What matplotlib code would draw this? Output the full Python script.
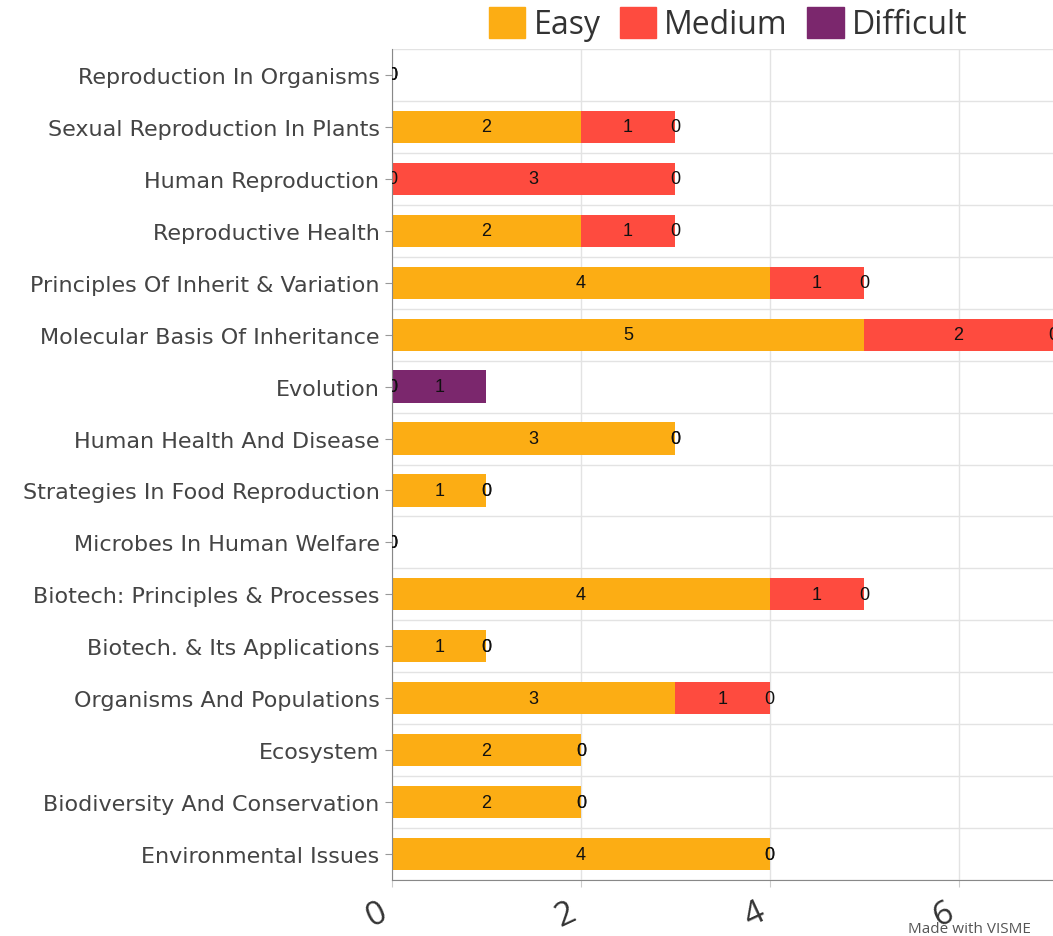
import matplotlib
matplotlib.use("Agg")
import matplotlib.pyplot as plt
import numpy as np
from matplotlib.patches import Patch

categories = [
    "Reproduction In Organisms",
    "Sexual Reproduction In Plants",
    "Human Reproduction",
    "Reproductive Health",
    "Principles Of Inherit & Variation",
    "Molecular Basis Of Inheritance",
    "Evolution",
    "Human Health And Disease",
    "Strategies In Food Reproduction",
    "Microbes In Human Welfare",
    "Biotech: Principles & Processes",
    "Biotech. & Its Applications",
    "Organisms And Populations",
    "Ecosystem",
    "Biodiversity And Conservation",
    "Environmental Issues",
]
easy = [0, 2, 0, 2, 4, 5, 0, 3, 1, 0, 4, 1, 3, 2, 2, 4]
medium = [0, 1, 3, 1, 1, 2, 0, 0, 0, 0, 1, 0, 1, 0, 0, 0]
difficult = [0, 0, 0, 0, 0, 0, 1, 0, 0, 0, 0, 0, 0, 0, 0, 0]
series_names = ["Easy", "Medium", "Difficult"]
x_ticks = [0, 2, 4, 6]

colors = ["#FCAD14", "#FE4B3F", "#7B276D"]

fig = plt.figure(figsize=(10.53, 9.37), dpi=100)
ax = fig.add_axes([392/1053, 1-881/937, 1-392/1053, (881-50)/937])

y = np.arange(len(categories))
left = np.zeros(len(categories))
for vals, col in zip([easy, medium, difficult], colors):
    vals = np.array(vals, dtype=float)
    ax.barh(y, vals, left=left, height=0.62, color=col, zorder=2)
    for yi, (l, v) in enumerate(zip(left, vals)):
        ax.text(l + v/2, yi, f"{int(v)}", ha="center", va="center",
                fontsize=13, color="#111111", family="Liberation Sans",
                zorder=4, clip_on=True)
    left = left + vals

ax.set_ylim(len(categories) - 0.5, -0.5)
ax.set_xlim(0, 7.0)
ax.set_yticks(y)
ax.set_yticklabels(categories, family="DejaVu Sans", fontsize=16, color="#444444")
ax.set_yticks(np.arange(-0.5, len(categories), 1), minor=True)
ax.set_xticks(x_ticks)
ax.set_xticklabels([str(t) for t in x_ticks], rotation=25, ha="right",
                   fontsize=24, color="#333333", family="Open Sans")
ax.tick_params(axis="x", length=5, color="#cccccc", pad=6)
ax.tick_params(axis="y", which="major", length=5, color="#999999", pad=4)
ax.tick_params(axis="y", which="minor", length=0)
ax.grid(axis="x", color="#e3e3e3", linewidth=1, zorder=0)
ax.grid(axis="y", which="minor", color="#e3e3e3", linewidth=1, zorder=0)
ax.set_axisbelow(True)
for s in ["top", "right"]:
    ax.spines[s].set_visible(False)
ax.spines["left"].set_color("#888888")
ax.spines["bottom"].set_color("#888888")

handles = [Patch(facecolor=c, edgecolor=c) for c in colors]
fig.legend(handles, series_names, loc="center", bbox_to_anchor=(728/1053, 1-25/937),
           ncol=3, frameon=False, handlelength=1.15, handleheight=1.15,
           handletextpad=0.25, columnspacing=0.6, labelcolor="#333333",
           prop={"family": "Open Sans", "size": 23})

fig.text(908/1053, 1-930/937, "Made with VISME", ha="left", va="center", fontsize=11,
         color="#555555", family="Open Sans")

fig.savefig("out.png", dpi=100)
